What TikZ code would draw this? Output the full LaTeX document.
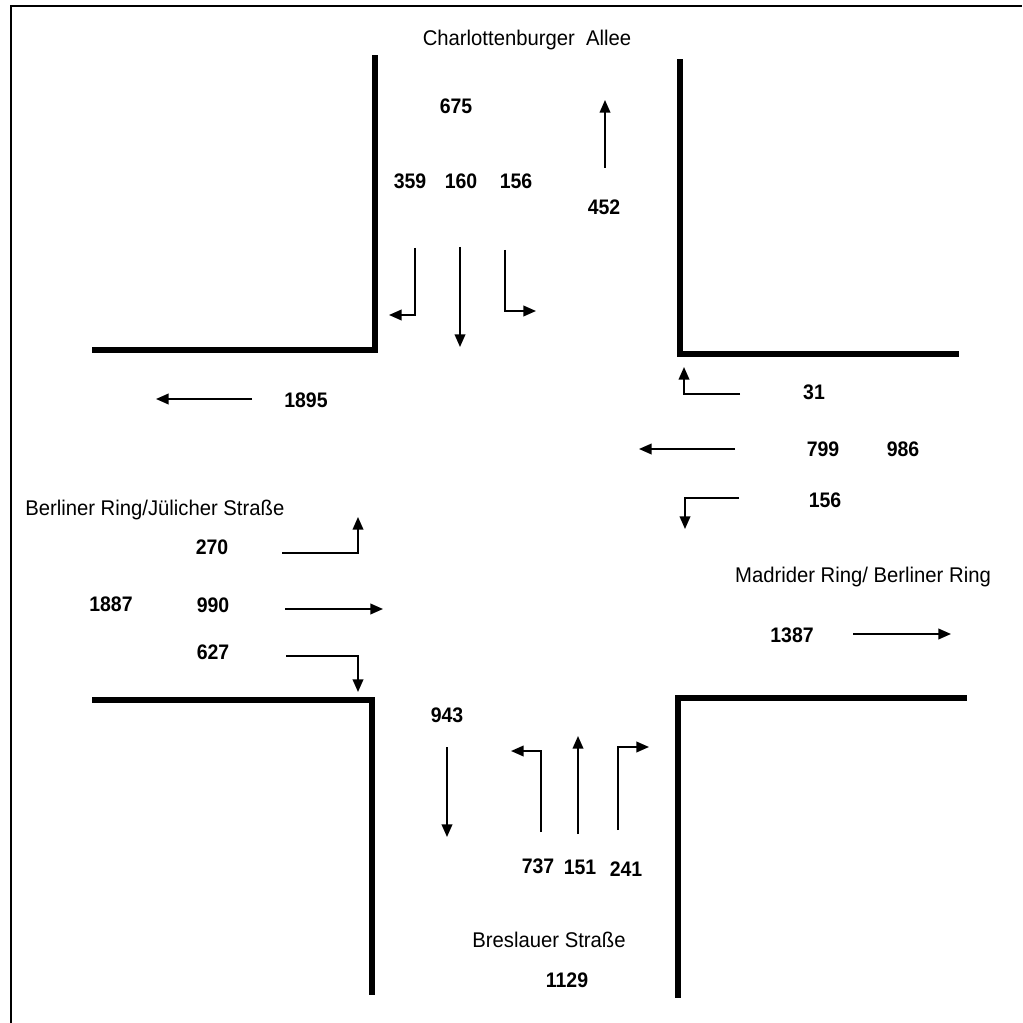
\documentclass[tikz,border=0pt]{standalone}
\usepackage{fontspec}
\setmainfont{Liberation Sans}
\usetikzlibrary{arrows.meta}
\begin{document}
\begin{tikzpicture}[x=0.75pt,y=-0.75pt,
  road/.style={line width=3.8pt,line cap=rect},
  flow/.style={line width=1.3pt,-{Triangle[length=9.5pt,width=8pt]}},
  num/.style={font=\fontsize{14.6}{16}\selectfont\bfseries,inner sep=0pt,yscale=1.08},
  street/.style={font=\fontsize{15.2}{17}\selectfont,inner sep=0pt,yscale=1.05}]
\useasboundingbox (0,0) rectangle (1022,1023);
% frame
\draw[line width=2pt] (11,1023) -- (11,6) -- (1022,6);
% roads
\draw[road] (375,58) -- (375,350) -- (95,350);
\draw[road] (680,62) -- (680,354) -- (956,354);
\draw[road] (95,700) -- (372,700) -- (372,992);
\draw[road] (964,698) -- (678,698) -- (678,995);
% street names
\node[street] (charl) at (527,40) {Charlottenburger\ \ Allee};
\node[street,anchor=west] (berl) at (25,510) {Berliner\ Ring/Jülicher\ Straße};
\node[street] (madr) at (863,577) {Madrider\ Ring/\ Berliner\ Ring};
\node[street] (bres) at (549,940) {Breslauer\ Straße};
% numbers
\node[num] (n675) at (456,106) {675};
\node[num] (n359) at (410,181) {359};
\node[num] (n160) at (461,181) {160};
\node[num] (n156a) at (516,181) {156};
\node[num] (n452) at (604,207) {452};
\node[num] (n1895) at (306,400) {1895};
\node[num] (n31) at (814,392) {31};
\node[num] (n799) at (823,449) {799};
\node[num] (n986) at (903,449) {986};
\node[num] (n156b) at (825,500) {156};
\node[num] (n270) at (212,547) {270};
\node[num] (n1887) at (111,604) {1887};
\node[num] (n990) at (213,605) {990};
\node[num] (n627) at (213,652) {627};
\node[num] (n1387) at (792,635) {1387};
\node[num] (n943) at (447,715) {943};
\node[num] (n737) at (538,866) {737};
\node[num] (n151) at (580,867) {151};
\node[num] (n241) at (626,869) {241};
\node[num] (n1129) at (567,980) {1129};
% arrow coordinates
\coordinate (a1s) at (605,168); \coordinate (a1e) at (605,100);
\coordinate (a2s) at (415,248); \coordinate (a2m) at (415,315); \coordinate (a2e) at (389,315);
\coordinate (a3s) at (460,247); \coordinate (a3e) at (460,347);
\coordinate (a4s) at (505,250); \coordinate (a4m) at (505,311); \coordinate (a4e) at (536,311);
\coordinate (a5s) at (252,399); \coordinate (a5e) at (156,399);
\coordinate (a6s) at (740,394); \coordinate (a6m) at (684,394); \coordinate (a6e) at (684,367);
\coordinate (a7s) at (735,449); \coordinate (a7e) at (639,449);
\coordinate (a8s) at (739,498); \coordinate (a8m) at (685,498); \coordinate (a8e) at (685,529);
\coordinate (a9s) at (282,553); \coordinate (a9m) at (358,553); \coordinate (a9e) at (358,517);
\coordinate (a10s) at (285,609); \coordinate (a10e) at (383,609);
\coordinate (a11s) at (286,656); \coordinate (a11m) at (358,656); \coordinate (a11e) at (358,692);
\coordinate (a12s) at (853,634); \coordinate (a12e) at (951,634);
\coordinate (a13s) at (447,747); \coordinate (a13e) at (447,837);
\coordinate (a14s) at (541,832); \coordinate (a14m) at (541,751); \coordinate (a14e) at (511,751);
\coordinate (a15s) at (578,834); \coordinate (a15e) at (578,736);
\coordinate (a16s) at (618,830); \coordinate (a16m) at (618,747); \coordinate (a16e) at (649,747);
% arrows
\draw[flow] (a1s) -- (a1e);
\draw[flow] (a2s) -- (a2m) -- (a2e);
\draw[flow] (a3s) -- (a3e);
\draw[flow] (a4s) -- (a4m) -- (a4e);
\draw[flow] (a5s) -- (a5e);
\draw[flow] (a6s) -- (a6m) -- (a6e);
\draw[flow] (a7s) -- (a7e);
\draw[flow] (a8s) -- (a8m) -- (a8e);
\draw[flow] (a9s) -- (a9m) -- (a9e);
\draw[flow] (a10s) -- (a10e);
\draw[flow] (a11s) -- (a11m) -- (a11e);
\draw[flow] (a12s) -- (a12e);
\draw[flow] (a13s) -- (a13e);
\draw[flow] (a14s) -- (a14m) -- (a14e);
\draw[flow] (a15s) -- (a15e);
\draw[flow] (a16s) -- (a16m) -- (a16e);
\end{tikzpicture}
\end{document}
